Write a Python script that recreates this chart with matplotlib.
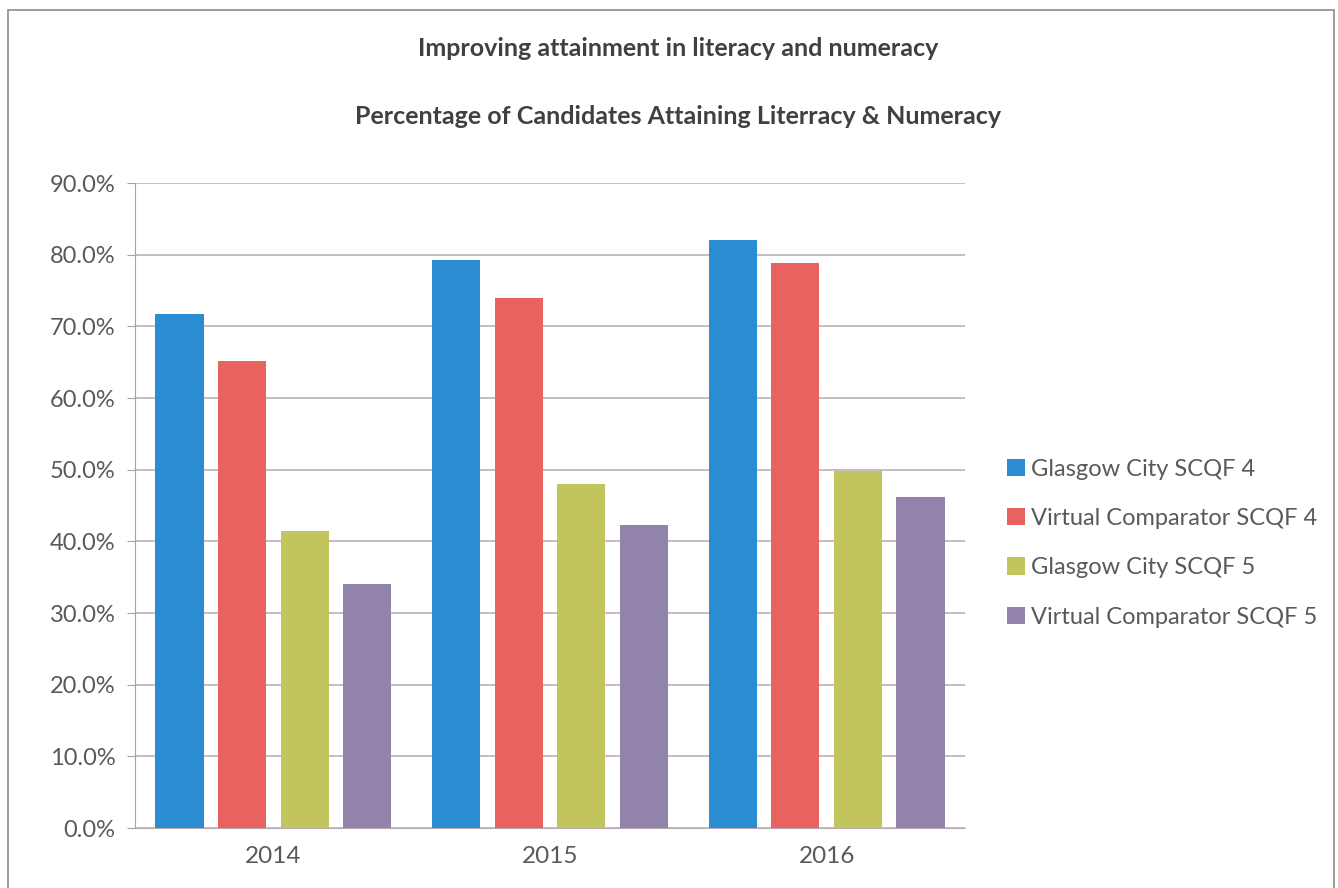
import matplotlib
matplotlib.use("Agg")
import matplotlib.pyplot as plt
from matplotlib.patches import Rectangle, Patch
from matplotlib.ticker import FuncFormatter
import numpy as np

plt.rcParams['font.family'] = ['Lato', 'DejaVu Sans']

years = ["2014", "2015", "2016"]
series_names = [
    "Glasgow City SCQF 4",
    "Virtual Comparator SCQF 4",
    "Glasgow City SCQF 5",
    "Virtual Comparator SCQF 5",
]
glasgow_scqf4 = [71.7, 79.3, 82.0]
comparator_scqf4 = [65.2, 73.9, 78.8]
glasgow_scqf5 = [41.5, 48.0, 49.8]
comparator_scqf5 = [34.0, 42.3, 46.2]
colors = ["#2a8dd2", "#e8625f", "#c2c45e", "#9283aa"]

y_ticks = [0, 10, 20, 30, 40, 50, 60, 70, 80, 90]

fig = plt.figure(figsize=(13.38, 8.88), dpi=100)
fig.patch.set_facecolor("white")

# outer chart border
fig.add_artist(Rectangle((8 / 1338, -0.01), 1326 / 1338, 1 - 10 / 888 + 0.01,
                         transform=fig.transFigure, fill=False,
                         edgecolor="#8c8c8c", linewidth=1.2))

ax = fig.add_axes([135 / 1338, 1 - 828 / 888, 830 / 1338, (828 - 183) / 888])

values = [glasgow_scqf4, comparator_scqf4, glasgow_scqf5, comparator_scqf5]
x = np.arange(len(years))
bar_w = 0.174
step = 0.226
offsets = (np.arange(4) - 1.5) * step
for vals, off, col, name in zip(values, offsets, colors, series_names):
    ax.bar(x + off, vals, width=bar_w, color=col, label=name, zorder=3)

ax.set_xlim(-0.5, 2.5)
ax.set_ylim(0, 90)
ax.set_yticks(y_ticks)
ax.yaxis.set_major_formatter(FuncFormatter(lambda v, p: f"{v:.1f}%"))
ax.set_xticks(x)
ax.set_xticklabels(years)
ax.grid(axis="y", color="#b9aab3", linewidth=1.1, zorder=0)
for s in ["top", "right"]:
    ax.spines[s].set_visible(False)
ax.spines["left"].set_color("#a9a0a6")
ax.spines["bottom"].set_color("#b9aab3")
ax.tick_params(axis="y", length=6, color="#a9a0a6", labelsize=17,
               labelcolor="#595959", pad=8)
ax.tick_params(axis="x", length=0, labelsize=17.5, labelcolor="#595959", pad=13)

fig.text(678 / 1338, 1 - 48 / 888, "Improving attainment in literacy and numeracy",
         ha="center", va="center", fontsize=18, fontweight="bold", color="#404040")
fig.text(678 / 1338, 1 - 116 / 888, "Percentage of Candidates Attaining Literracy & Numeracy",
         ha="center", va="center", fontsize=18, fontweight="bold", color="#404040")

handles = [Patch(facecolor=c, edgecolor="none") for c in colors]
fig.legend(handles, series_names, loc="center left",
           bbox_to_anchor=(998 / 1338, 1 - 543 / 888), frameon=False,
           fontsize=17, labelcolor="#595959", handlelength=0.75, handleheight=0.75,
           handletextpad=0.25, labelspacing=1.2, borderaxespad=0)

fig.savefig("out.png", dpi=100, facecolor="white")
